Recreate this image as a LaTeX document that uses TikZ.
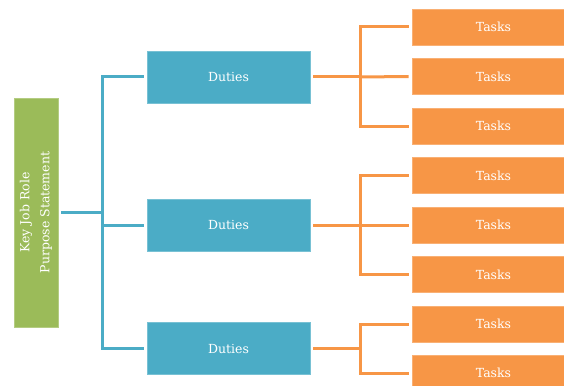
\documentclass[tikz,border=0pt]{standalone}
\usepackage{fontspec}
\setmainfont{DejaVu Serif}
\definecolor{dutyblue}{HTML}{4BACC6}
\definecolor{roleg}{HTML}{9BBB59}
\definecolor{taskor}{HTML}{F79646}
\begin{document}
\begin{tikzpicture}[x=1pt,y=-1pt,
  box/.style={rectangle, inner sep=0pt, text=white, font=\fontsize{12.5}{20}\selectfont, line width=0.8pt},
  dutybox/.style={box, fill=dutyblue, draw=dutyblue!75!white, minimum width=163pt, minimum height=52pt},
  taskbox/.style={box, fill=taskor, draw=taskor!75!white, minimum width=163pt, minimum height=36pt},
  rolebox/.style={box, fill=roleg, draw=roleg!75!white, minimum width=44pt, minimum height=229pt},
  bline/.style={draw=dutyblue, line width=3pt},
  oline/.style={draw=taskor, line width=3pt},
  gline/.style={draw=dutyblue, line width=3pt}]
\useasboundingbox (0,0) rectangle (564,385);
\node[rolebox] (kjr) at (36,212.5) {};
\node[rotate=90, text=white, font=\fontsize{12.5}{20}\selectfont, align=center] (kjrtext) at (kjr.center) {Key Job Role\\Purpose Statement};
\node[dutybox] (d1) at (228.5,77) {Duties};
\node[dutybox] (d2) at (228.5,225) {Duties};
\node[dutybox] (d3) at (228.5,348.5) {Duties};
\foreach \i/\y in {1/27,2/76.5,3/126,4/175.5,5/225,6/274.5,7/324,8/373}
  \node[taskbox] (t\i) at (493.5,\y) {Tasks};
\coordinate (trunk) at (102.5,225);
\draw[gline] ([xshift=3pt]kjr.east) -- (kjr.east -| trunk);
\draw[bline] ([xshift=-3pt]d1.west) -| (trunk) |- ([xshift=-3pt]d3.west);
\draw[bline] (trunk) -- ([xshift=-3pt]d2.west);
\coordinate (o1) at (360,77);
\coordinate (o2) at (360,225);
\coordinate (o3) at (360,348.5);
\draw[oline] ([xshift=3pt]d1.east) -- (o1);
\draw[oline] ([xshift=-3pt]t1.west) -| (o1) |- ([xshift=-3pt]t3.west);
\draw[oline] (o1) -- ([xshift=-3pt]t2.west);
\draw[oline] ([xshift=3pt]d2.east) -- (o2);
\draw[oline] ([xshift=-3pt]t4.west) -| (o2) |- ([xshift=-3pt]t6.west);
\draw[oline] (o2) -- ([xshift=-3pt]t5.west);
\draw[oline] ([xshift=3pt]d3.east) -- (o3);
\draw[oline] ([xshift=-3pt]t7.west) -| (o3) |- ([xshift=-3pt]t8.west);
\end{tikzpicture}
\end{document}
